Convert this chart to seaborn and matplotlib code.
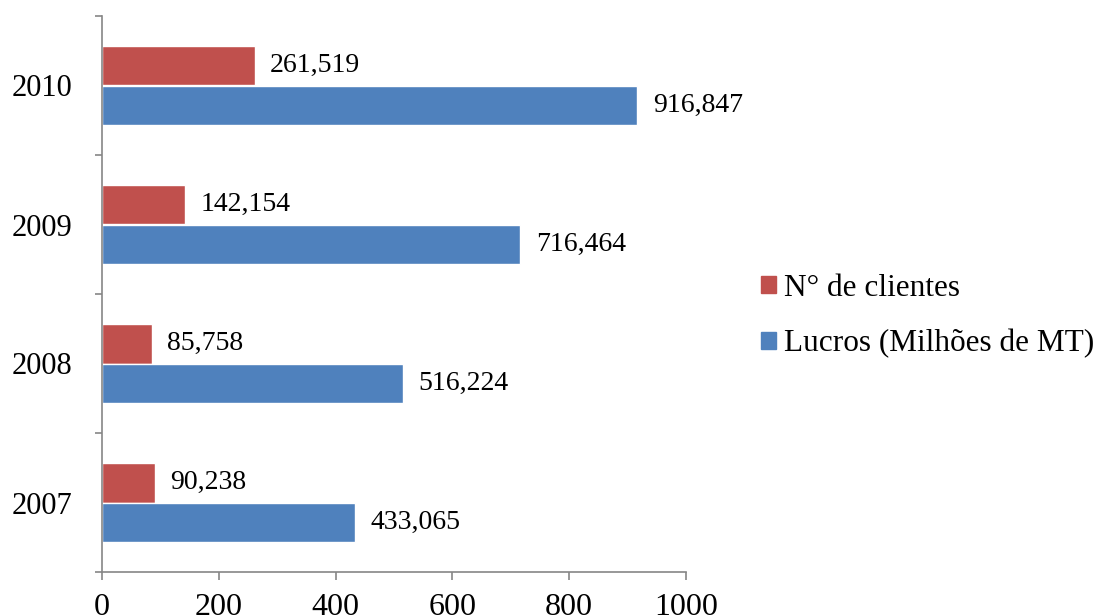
import matplotlib
matplotlib.use("Agg")
import matplotlib.pyplot as plt
import seaborn as sns
import pandas as pd
from matplotlib.ticker import FixedLocator, NullFormatter, FixedFormatter

# Data
years = ["2010", "2009", "2008", "2007"]
series_names = ["N° de clientes", "Lucros (Milhões de MT)"]
clientes = [261.519, 142.154, 85.758, 90.238]
lucros = [916.847, 716.464, 516.224, 433.065]
x_ticks = [0, 200, 400, 600, 800, 1000]

colors = {series_names[0]: "#C0504D", series_names[1]: "#4F81BD"}
axis_grey = "#868686"

sns.set_theme(style="white")
plt.rcParams["font.family"] = ["Liberation Serif", "DejaVu Serif"]
plt.rcParams["text.color"] = "black"
plt.rcParams["xtick.labelcolor"] = "black"
plt.rcParams["ytick.labelcolor"] = "black"

df = pd.DataFrame({
    "Ano": years * 2,
    "Valor": clientes + lucros,
    "Serie": [series_names[0]] * len(years) + [series_names[1]] * len(years),
})

fig = plt.figure(figsize=(11.03, 6.16), dpi=100)
ax = fig.add_axes([102 / 1103, 1 - 572 / 616, 584 / 1103, 556 / 616])

sns.barplot(data=df, x="Valor", y="Ano", hue="Serie", order=years,
            hue_order=series_names, palette=colors, orient="h",
            width=0.57, saturation=1, ax=ax, legend=False)

# Value labels with comma as decimal separator
for cont in ax.containers:
    labels = [f"{b.get_width():.3f}".replace(".", ",") for b in cont]
    ax.bar_label(cont, labels=labels, padding=11, fontsize=20, color="black")

ax.set_xlim(0, 1000)
ax.set_ylim(len(years) - 0.5, -0.5)
ax.xaxis.set_major_locator(FixedLocator(x_ticks))
ax.set_xticklabels([str(t) for t in x_ticks])

# Ticks at category boundaries, labels at category centres
ax.yaxis.set_major_locator(FixedLocator([i - 0.5 for i in range(len(years) + 1)]))
ax.yaxis.set_major_formatter(NullFormatter())
ax.yaxis.set_minor_locator(FixedLocator(list(range(len(years)))))
ax.yaxis.set_minor_formatter(FixedFormatter(years))
ax.tick_params(axis="y", which="major", length=5, width=1.2, color=axis_grey, direction="out", left=True)
ax.tick_params(axis="y", which="minor", length=0, labelsize=22, pad=21, left=True)
ax.tick_params(axis="x", which="major", length=6, width=1.2, color=axis_grey, direction="out",
               labelsize=23, pad=9, bottom=True)

ax.set_xlabel("")
ax.set_ylabel("")
for side in ("top", "right"):
    ax.spines[side].set_visible(False)
for side in ("left", "bottom"):
    ax.spines[side].set_color(axis_grey)
    ax.spines[side].set_linewidth(1.2)
ax.grid(False)

handles = [plt.Rectangle((0, 0), 1, 1, color=colors[n]) for n in series_names]
fig.legend(handles, series_names, loc="center left", bbox_to_anchor=(761 / 1103, 1 - 316 / 616),
           frameon=False, fontsize=22.5, handlelength=0.48, handleheight=0.48,
           handletextpad=0.25, labelspacing=0.85, borderaxespad=0, borderpad=0)

fig.savefig("out.png", dpi=100)
